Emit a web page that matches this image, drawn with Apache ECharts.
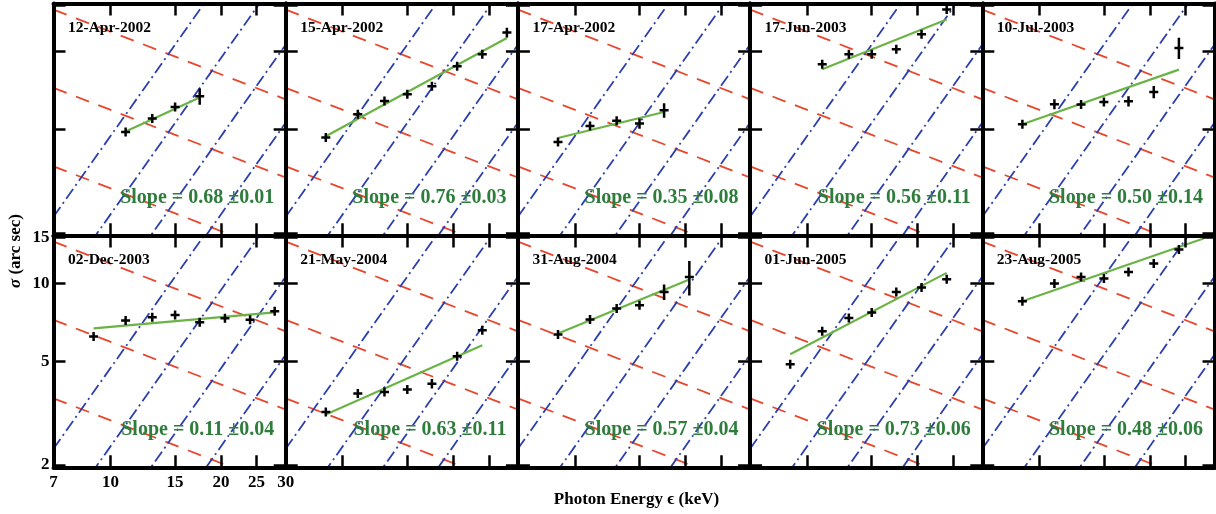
<!DOCTYPE html>
<html><head><meta charset="utf-8">
<script src="https://cdn.jsdelivr.net/npm/echarts@6/dist/echarts.min.js"></script>
<style>html,body{margin:0;padding:0;background:#fff}#c{width:1216px;height:514px}</style>
</head><body><div id="c"></div>
<script>
// ---------------- DATA ----------------
const panelDates = ['12-Apr-2002','15-Apr-2002','17-Apr-2002','17-Jun-2003','10-Jul-2003',
                    '02-Dec-2003','21-May-2004','31-Aug-2004','01-Jun-2005','23-Aug-2005'];
const slopeLabels = ['Slope = 0.68 \u00b10.01','Slope = 0.76 \u00b10.03','Slope = 0.35 \u00b10.08','Slope = 0.56 \u00b10.11','Slope = 0.50 \u00b10.14',
                     'Slope = 0.11 \u00b10.04','Slope = 0.63 \u00b10.11','Slope = 0.57 \u00b10.04','Slope = 0.73 \u00b10.06','Slope = 0.48 \u00b10.06'];
const xTickValues = [7, 10, 15, 20, 25, 30];
const yTickValues = [2, 5, 10, 15];

// photon energies (keV) per panel
const energies = [
  [11, 13, 15, 17.5],
  [9, 11, 13, 15, 17.5, 20.5, 24, 28],
  [9, 11, 13, 15, 17.5],
  [11, 13, 15, 17.5, 20.5, 24],
  [9, 11, 13, 15, 17.5, 20.5, 24],
  [9, 11, 13, 15, 17.5, 20.5, 24, 28],
  [9, 11, 13, 15, 17.5, 20.5, 24],
  [9, 11, 13, 15, 17.5, 20.5],
  [9, 11, 13, 15, 17.5, 20.5, 24],
  [9, 11, 13, 15, 17.5, 20.5, 24]
];
// sigma (arc sec) per panel
const sigmas = [
  [4.89, 5.51, 6.11, 6.71],
  [4.66, 5.72, 6.44, 6.83, 7.33, 8.76, 9.74, 11.8],
  [4.48, 5.16, 5.40, 5.27, 5.93],
  [8.91, 9.74, 9.74, 10.18, 11.63, 14.47],
  [5.24, 6.26, 6.24, 6.38, 6.42, 6.97, 10.3],
  [6.24, 7.19, 7.40, 7.55, 7.08, 7.33, 7.23, 7.80],
  [3.20, 3.77, 3.82, 3.90, 4.11, 5.24, 6.60],
  [6.35, 7.25, 7.99, 8.23, 9.26, 10.57],
  [4.88, 6.54, 7.35, 7.72, 9.26, 9.63, 10.36],
  [8.53, 9.97, 10.57, 10.42, 11.05, 11.91, 13.48]
];
// sigma errors (arc sec) per panel
const errors = [
  [0.10, 0.12, 0.14, 0.48],
  [0.10, 0.12, 0.13, 0.14, 0.15, 0.18, 0.20, 0.50],
  [0.10, 0.10, 0.12, 0.24, 0.38],
  [0.18, 0.20, 0.20, 0.25, 0.30, 0.50],
  [0.10, 0.28, 0.12, 0.20, 0.29, 0.38, 0.96],
  [0.12, 0.13, 0.14, 0.14, 0.14, 0.14, 0.14, 0.15],
  [0.06, 0.07, 0.07, 0.08, 0.17, 0.10, 0.12],
  [0.12, 0.15, 0.15, 0.20, 0.63, 1.60],
  [0.09, 0.12, 0.13, 0.14, 0.17, 0.18, 0.19],
  [0.16, 0.18, 0.19, 0.19, 0.20, 0.22, 0.25]
];
// power-law fit lines: start/end energy and sigma
const fitStartE = [11, 9, 9, 11, 9, 9, 9, 9, 9, 9];
const fitStartS = [4.91, 4.71, 4.64, 8.53, 5.24, 6.71, 3.13, 6.41, 5.33, 8.53];
const fitEndE   = [17.5, 28, 17.5, 24, 24, 28, 24, 20.5, 24, 28];
const fitEndS   = [6.64, 11.25, 5.84, 13.24, 8.50, 7.73, 5.77, 10.33, 10.96, 14.86];

// guide lines (same in every panel): sigma at 7 keV and at 30 keV
const guideEnergy = [7, 30];
const redGuides  = [[14.45, 6.53], [7.23, 3.27], [3.61, 1.63]];
const blueGuides = [[2.31, 42.4], [1.155, 21.2], [0.578, 10.6], [0.289, 5.31]];

// ---------------- LAYOUT / STYLE ----------------
const X_MIN = 7, X_MAX = 30, Y_MIN = 1.96, Y_MAX = 15.26;
const FONT = '"Liberation Serif", "Times New Roman", serif';
const PW = 232.2, PH = 231.8, L0 = 53.5, TOPS = [3.5, 235.5];
const RED = '#e8472e', BLUE = '#2b3fae', GREEN_LINE = '#6ab344', GREEN_TXT = '#2e7d3c';

const grids = [], xAxes = [], yAxes = [], series = [], graphics = [];

for (let i = 0; i < 10; i++) {
  const row = i < 5 ? 0 : 1, col = i % 5;
  const left = L0 + col * PW, top = TOPS[row];
  grids.push({left: left, top: top, width: PW, height: PH, show: false, containLabel: false});

  const tickStyle = {show: true, inside: true, length: 12, lineStyle: {color: '#000', width: 2.5}};
  const lineStyle = {show: true, onZero: false, lineStyle: {color: '#000', width: 4}};
  const showLab = (i === 5);
  const labStyle = {fontFamily: FONT, fontWeight: 'bold', fontSize: 17, color: '#000'};

  xAxes.push({type: 'log', logBase: 10, gridIndex: i, position: 'bottom', min: X_MIN, max: X_MAX, z: 10,
    axisLine: lineStyle, axisTick: Object.assign({}, tickStyle, {customValues: xTickValues}),
    axisLabel: Object.assign({show: showLab, customValues: xTickValues, margin: 7, formatter: v => String(Math.round(v))}, labStyle),
    splitLine: {show: false}, minorTick: {show: false}});
  xAxes.push({type: 'log', logBase: 10, gridIndex: i, position: 'top', min: X_MIN, max: X_MAX, z: 10,
    axisLine: lineStyle, axisTick: Object.assign({}, tickStyle, {customValues: xTickValues}),
    axisLabel: {show: false}, splitLine: {show: false}});
  yAxes.push({type: 'log', logBase: 10, gridIndex: i, position: 'left', min: Y_MIN, max: Y_MAX, z: 10,
    axisLine: lineStyle, axisTick: Object.assign({}, tickStyle, {customValues: yTickValues}),
    axisLabel: Object.assign({show: showLab, customValues: yTickValues, margin: 4, formatter: v => String(Math.round(v))}, labStyle),
    splitLine: {show: false}});
  yAxes.push({type: 'log', logBase: 10, gridIndex: i, position: 'right', min: Y_MIN, max: Y_MAX, z: 10,
    axisLine: lineStyle, axisTick: Object.assign({}, tickStyle, {customValues: yTickValues}),
    axisLabel: {show: false}, splitLine: {show: false}});

  const xi = 2 * i, yi = 2 * i;
  redGuides.forEach(g => series.push({type: 'line', xAxisIndex: xi, yAxisIndex: yi, silent: true, symbol: 'none', clip: true, z: 1,
    data: guideEnergy.map((e, k) => [e, g[k]]),
    lineStyle: {color: RED, width: 1.8, type: [14, 10]}}));
  blueGuides.forEach(g => series.push({type: 'line', xAxisIndex: xi, yAxisIndex: yi, silent: true, symbol: 'none', clip: true, z: 1,
    data: guideEnergy.map((e, k) => [e, g[k]]),
    lineStyle: {color: BLUE, width: 1.8, type: [12, 4, 2, 4]}}));
  series.push({type: 'line', xAxisIndex: xi, yAxisIndex: yi, silent: true, symbol: 'none', clip: true, z: 3,
    data: [[fitStartE[i], fitStartS[i]], [fitEndE[i], fitEndS[i]]],
    lineStyle: {color: GREEN_LINE, width: 2.2}});
  series.push({type: 'custom', xAxisIndex: xi, yAxisIndex: yi, silent: true, z: 4, clip: true,
    dimensions: ['e', 's', 'lo', 'hi'], encode: {x: 0, y: 1},
    data: energies[i].map((e, k) => [e, sigmas[i][k], sigmas[i][k] - errors[i][k], sigmas[i][k] + errors[i][k]]),
    renderItem: function (params, api) {
      const e = api.value(0), s = api.value(1);
      const c = api.coord([e, s]), cl = api.coord([e, api.value(2)]), ch = api.coord([e, api.value(3)]);
      const arm = 4.5;
      const y1 = Math.min(ch[1], c[1] - arm), y2 = Math.max(cl[1], c[1] + arm);
      return {type: 'group', children: [
        {type: 'line', shape: {x1: c[0] - arm, y1: c[1], x2: c[0] + arm, y2: c[1]}, style: {stroke: '#000', lineWidth: 2.5}},
        {type: 'line', shape: {x1: c[0], y1: y1, x2: c[0], y2: y2}, style: {stroke: '#000', lineWidth: 2.5}}
      ]};
    }});

  graphics.push({type: 'text', x: left + 14.5, y: top + 24.5, z: 20,
    style: {text: panelDates[i], font: 'bold 15.5px ' + FONT, fill: '#000', textAlign: 'left', textVerticalAlign: 'middle'}});
  graphics.push({type: 'text', x: left + PW - 11.5, y: top + 194, z: 20,
    style: {text: slopeLabels[i], font: 'bold 20px ' + FONT, fill: GREEN_TXT, textAlign: 'right', textVerticalAlign: 'middle'}});
}

graphics.push({type: 'text', x: 636.5, y: 500, z: 20,
  style: {text: 'Photon Energy \u03f5 (keV)', font: 'bold 17px ' + FONT, fill: '#000', textAlign: 'center', textVerticalAlign: 'middle'}});
graphics.push({type: 'text', x: 16, y: 251, rotation: Math.PI / 2, z: 20,
  style: {text: '{i|\u03c3} (arc sec)', font: 'bold 17px ' + FONT, fill: '#000', textAlign: 'center', textVerticalAlign: 'middle',
    rich: {i: {fontStyle: 'italic', fontWeight: 'bold', fontSize: 17, fontFamily: FONT}}}});

const chart = echarts.init(document.getElementById('c'), null, {renderer: 'canvas'});
chart.setOption({
  animation: false,
  backgroundColor: '#fff',
  grid: grids, xAxis: xAxes, yAxis: yAxes, series: series, graphic: graphics
});
</script></body></html>
